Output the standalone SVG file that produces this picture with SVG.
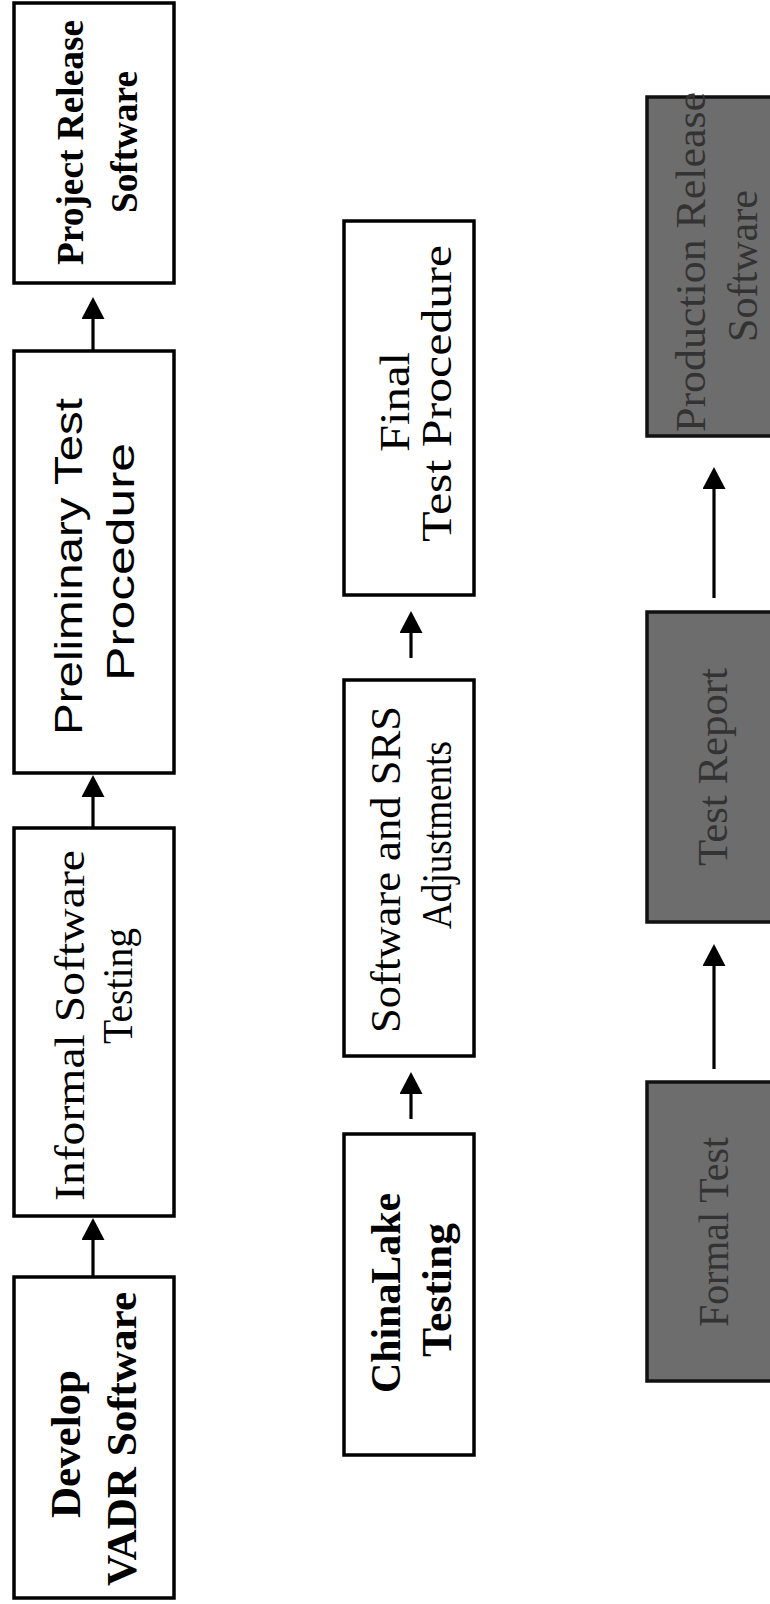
<svg xmlns="http://www.w3.org/2000/svg" width="770" height="1604" viewBox="0 0 770 1604">
<style>
.box{fill:#ffffff;stroke:#000;stroke-width:3.5}
.gbox{fill:#6d6d6d;stroke:#111;stroke-width:3.5}
.sb{font-family:"Liberation Serif","Times New Roman",serif;font-weight:bold;fill:#000}
.sr{font-family:"Liberation Serif","Times New Roman",serif;fill:#000}
.ss{font-family:"Liberation Sans",Arial,sans-serif;fill:#000}
.sg{font-family:"Liberation Serif","Times New Roman",serif;fill:#333}
.conn{stroke:#000;stroke-width:3.2;fill:none}
</style>
<defs>
<marker id="ah" markerUnits="userSpaceOnUse" viewBox="0 0 22 23" markerWidth="22" markerHeight="23" refX="0" refY="11.5" orient="auto">
<path d="M0,0 L22,11.5 L0,23 z" fill="#000"/>
</marker>
</defs>
<rect width="770" height="1604" fill="#fff"/>

<g id="project-release">
<rect class="box" x="14" y="3" width="160" height="280"/>
<text class="sb" transform="rotate(-90)" x="-265" y="83" font-size="38" textLength="245" lengthAdjust="spacingAndGlyphs">Project Release</text>
<text class="sb" transform="rotate(-90)" x="-213" y="137" font-size="38" textLength="142" lengthAdjust="spacingAndGlyphs">Software</text>
</g>

<g id="preliminary">
<rect class="box" x="14" y="351" width="160" height="422"/>
<text class="ss" transform="rotate(-90)" x="-735" y="82" font-size="39" textLength="337" lengthAdjust="spacingAndGlyphs">Preliminary Test</text>
<text class="ss" transform="rotate(-90)" x="-681" y="134" font-size="39" textLength="238" lengthAdjust="spacingAndGlyphs">Procedure</text>
</g>

<g id="informal">
<rect class="box" x="14" y="828" width="160" height="388"/>
<text class="sr" transform="rotate(-90)" x="-1201" y="84" font-size="42" textLength="351" lengthAdjust="spacingAndGlyphs">Informal Software</text>
<text class="sr" transform="rotate(-90)" x="-1044" y="132" font-size="42" textLength="116" lengthAdjust="spacingAndGlyphs">Testing</text>
</g>

<g id="develop">
<rect class="box" x="14" y="1277" width="160" height="321"/>
<text class="sb" transform="rotate(-90)" x="-1518" y="80" font-size="43" textLength="148" lengthAdjust="spacingAndGlyphs">Develop</text>
<text class="sb" transform="rotate(-90)" x="-1586" y="136" font-size="43" textLength="294" lengthAdjust="spacingAndGlyphs">VADR Software</text>
</g>

<g id="final-test">
<rect class="box" x="344" y="221" width="130" height="374"/>
<text class="sr" transform="rotate(-90)" x="-452" y="409" font-size="42" textLength="100" lengthAdjust="spacingAndGlyphs">Final</text>
<text class="sr" transform="rotate(-90)" x="-542" y="451" font-size="42" textLength="297" lengthAdjust="spacingAndGlyphs">Test Procedure</text>
</g>

<g id="software-srs">
<rect class="box" x="344" y="680" width="130" height="376"/>
<text class="sr" transform="rotate(-90)" x="-1033" y="400" font-size="43" textLength="327" lengthAdjust="spacingAndGlyphs">Software and SRS</text>
<text class="sr" transform="rotate(-90)" x="-929" y="451" font-size="43" textLength="188" lengthAdjust="spacingAndGlyphs">Adjustments</text>
</g>

<g id="chinalake">
<rect class="box" x="344" y="1134" width="130" height="321"/>
<text class="sb" transform="rotate(-90)" x="-1393" y="400" font-size="43" textLength="200" lengthAdjust="spacingAndGlyphs">ChinaLake</text>
<text class="sb" transform="rotate(-90)" x="-1357" y="451" font-size="43" textLength="134" lengthAdjust="spacingAndGlyphs">Testing</text>
</g>

<g id="production-release">
<rect class="gbox" x="647" y="97" width="160" height="339"/>
<text class="sg" transform="rotate(-90)" x="-432" y="705" font-size="42" textLength="340" lengthAdjust="spacingAndGlyphs">Production Release</text>
<text class="sg" transform="rotate(-90)" x="-342" y="757" font-size="42" textLength="152" lengthAdjust="spacingAndGlyphs">Software</text>
</g>

<g id="test-report">
<rect class="gbox" x="647" y="612" width="160" height="310"/>
<text class="sg" transform="rotate(-90)" x="-866" y="727" font-size="42" textLength="198" lengthAdjust="spacingAndGlyphs">Test Report</text>
</g>

<g id="formal-test">
<rect class="gbox" x="647" y="1082" width="160" height="299"/>
<text class="sg" transform="rotate(-90)" x="-1327" y="728" font-size="42" textLength="190" lengthAdjust="spacingAndGlyphs">Formal Test</text>
</g>

<g id="connectors">
<line class="conn" x1="93" y1="351" x2="93" y2="319" marker-end="url(#ah)"/>
<line class="conn" x1="93" y1="828" x2="93" y2="797" marker-end="url(#ah)"/>
<line class="conn" x1="93" y1="1277" x2="93" y2="1240" marker-end="url(#ah)"/>
<line class="conn" x1="411" y1="658" x2="411" y2="633" marker-end="url(#ah)"/>
<line class="conn" x1="411" y1="1119" x2="411" y2="1094" marker-end="url(#ah)"/>
<line class="conn" x1="714" y1="598" x2="714" y2="489" marker-end="url(#ah)"/>
<line class="conn" x1="714" y1="1069" x2="714" y2="966" marker-end="url(#ah)"/>
</g>
</svg>
